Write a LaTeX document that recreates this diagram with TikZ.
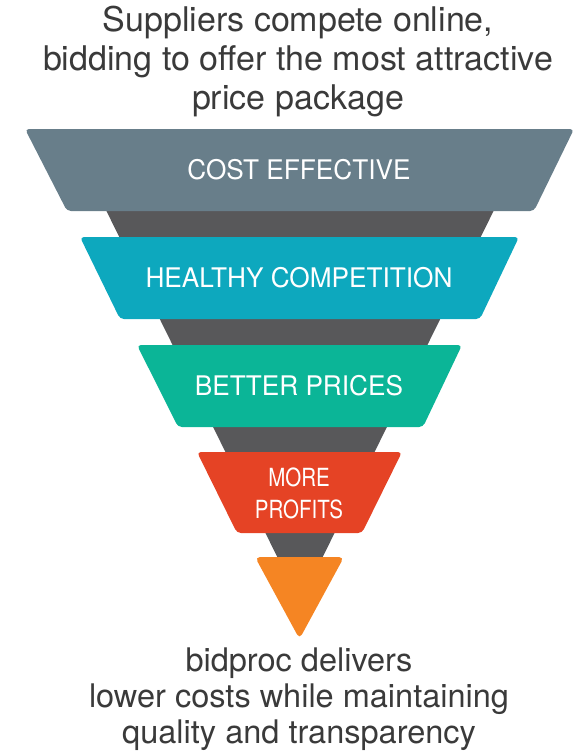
\documentclass[tikz,border=0pt]{standalone}
\usepackage{fontspec}
\setmainfont{TeX Gyre Heros}
\newfontfamily\bandfont[FakeStretch=0.97]{TeX Gyre Heros}
\newfontfamily\narrowfont[FakeStretch=0.82]{TeX Gyre Heros}
\definecolor{bandgray}{RGB}{104,126,138}
\definecolor{bandteal}{RGB}{13,168,190}
\definecolor{bandgreen}{RGB}{11,181,151}
\definecolor{bandred}{RGB}{229,67,37}
\definecolor{bandorange}{RGB}{245,133,35}
\definecolor{funneldark}{RGB}{88,88,90}
\definecolor{txtdark}{RGB}{58,58,58}
\tikzset{
  captxt/.style={text=txtdark, font=\fontsize{34}{39}\selectfont, align=center, inner sep=0pt},
  foottxt/.style={text=txtdark, font=\fontsize{32.5}{36}\selectfont, align=center, inner sep=0pt},
  bandtxt/.style={text=white, font=\bandfont\fontsize{27}{30}\selectfont, inner sep=0pt},
  smalltxt/.style={text=white, font=\narrowfont\fontsize{25}{32}\selectfont, align=center, inner sep=0pt},
  band/.style={rounded corners=4pt}
}
\begin{document}
\begin{tikzpicture}[x=1pt,y=-1pt]
\useasboundingbox (0,0) rectangle (574,752);
% dark funnel body
\fill[funneldark] (101,200) -- (499,200) -- (300,603) -- cycle;
% bands
\fill[bandgray, band] (25,129) -- (574,129) -- (534,211) -- (67,211) -- cycle;
\fill[bandteal, band] (80,237) -- (519,237) -- (480,319) -- (120,319) -- cycle;
\fill[bandgreen, band] (137,345) -- (462,345) -- (423,427) -- (178,427) -- cycle;
\fill[bandred, band] (197,452) -- (402,452) -- (362,533) -- (237,533) -- cycle;
\fill[bandorange, rounded corners=5pt] (255,557) -- (344,557) -- (299.5,639) -- cycle;
% texts
\node[captxt] (top) at (298,62) {Suppliers compete online,\\bidding to offer the most attractive\\price package};
\node[bandtxt] (t1) at (299,170) {COST EFFECTIVE};
\node[bandtxt] (t2) at (299,278) {HEALTHY COMPETITION};
\node[bandtxt] (t3) at (299,386) {BETTER PRICES};
\node[smalltxt] (t4) at (299,493) {MORE\\PROFITS};
\node[foottxt] (bottom) at (299,699) {bidproc delivers\\lower costs while maintaining\\quality and transparency};
\end{tikzpicture}
\end{document}
